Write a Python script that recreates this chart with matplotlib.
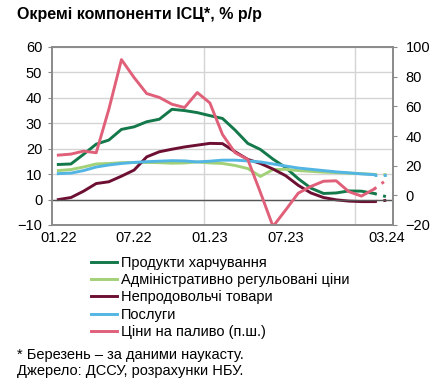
import numpy as np
import matplotlib
matplotlib.use('Agg')
from matplotlib import pyplot as plt
from matplotlib.ticker import FixedLocator

plt.rcParams['font.family'] = ['Liberation Sans', 'DejaVu Sans']

# months 01.22 .. 03.24 (last point is the nowcast)
months = ['01.22', '02.22', '03.22', '04.22', '05.22', '06.22', '07.22', '08.22', '09.22',
          '10.22', '11.22', '12.22', '01.23', '02.23', '03.23', '04.23', '05.23', '06.23',
          '07.23', '08.23', '09.23', '10.23', '11.23', '12.23', '01.24', '02.24', '03.24']
tick_labels = ['01.22', '07.22', '01.23', '07.23', '03.24']

food = [13.8, 14.0, 17.8, 21.8, 23.4, 27.6, 28.6, 30.6, 31.6, 35.5, 35.0, 34.2, 33.0, 31.9,
        27.3, 22.1, 19.7, 15.9, 12.6, 8.2, 4.5, 2.4, 2.6, 3.4, 3.3, 2.4, 1.1]
admin = [11.4, 11.8, 12.8, 14.0, 14.2, 14.5, 14.6, 14.6, 14.5, 14.3, 14.4, 14.8, 14.4, 14.2,
         13.4, 12.2, 9.1, 11.8, 11.9, 11.4, 11.1, 10.8, 10.6, 10.4, 10.2, 9.9, 9.8]
nonfood = [0.0, 0.8, 3.3, 6.3, 7.0, 9.2, 11.6, 16.8, 18.8, 19.8, 20.7, 21.4, 22.1, 22.0,
           18.8, 15.8, 14.2, 12.0, 9.4, 5.6, 2.6, 0.8, -0.1, -0.6, -0.8, -0.8, -0.3]
services = [10.2, 10.4, 11.4, 12.8, 13.6, 14.2, 14.6, 14.9, 15.1, 15.3, 15.2, 14.8, 15.1, 15.5,
            15.5, 15.2, 14.8, 14.0, 13.2, 12.4, 11.9, 11.4, 10.9, 10.5, 10.1, 9.8, 9.8]
fuel = [27.1, 27.8, 29.8, 28.7, 58.0, 91.5, 79.4, 68.6, 66.0, 61.4, 59.2, 69.3, 62.3, 41.0,
        28.7, 24.2, 2.0, -21.0, -9.9, 1.5, 6.0, 9.5, 9.8, 2.5, -0.5, 4.2, 10.5]

names = ['Продукти харчування', 'Адміністративно регульовані ціни', 'Непродовольчі товари',
         'Послуги', 'Ціни на паливо (п.ш.)']
colors = ['#13784a', '#a3d178', '#6d0f33', '#53b5e3', '#e0607a']

x = np.arange(len(months))
n_solid = len(months) - 1  # last month dotted (nowcast)

fig = plt.figure(figsize=(4.32, 3.86), dpi=100)
ax = fig.add_axes([52/432, 1 - 225/386, 341/432, 178/386])
ax2 = ax.twinx()

handles = []
for series, name, c in zip([food, admin, nonfood, services], names[:4], colors[:4]):
    h, = ax.plot(x[:n_solid], series[:n_solid], color=c, lw=2.1, label=name)
    ax.plot(x[n_solid - 1:], series[n_solid - 1:], color=c, lw=2.1, ls=(0, (1, 2.2)))
    handles.append(h)
h, = ax2.plot(x[:n_solid], fuel[:n_solid], color=colors[4], lw=2.1, label=names[4])
ax2.plot(x[n_solid - 1:], fuel[n_solid - 1:], color=colors[4], lw=2.1, ls=(0, (1, 2.2)))
handles.append(h)

# axes
ax.set_xlim(-0.5, len(months) - 0.5)
ax.set_ylim(-10, 60)
ax.set_yticks(range(-10, 61, 10))
ax2.set_ylim(-20, 100)
ax2.set_yticks(range(-20, 101, 20))
ax.set_xticks([months.index(t) for t in tick_labels])
ax.set_xticklabels(tick_labels)
ax.xaxis.set_minor_locator(FixedLocator([11.5, 23.5]))
ax.grid(axis='y', color='#d4d4d4', lw=1)
ax.grid(axis='x', which='minor', color='#d4d4d4', lw=1)
ax.axhline(0, color='#555555', lw=1)
ax.set_axisbelow(True)

for a in (ax, ax2):
    for s in a.spines.values():
        s.set_color('#8a8a8a')
        s.set_linewidth(1.2)
ax.tick_params(axis='x', which='both', length=0, labelsize=10.5, pad=4, colors='black')
ax.tick_params(axis='y', length=3, color='#8a8a8a', labelsize=10.5, pad=4)
ax2.tick_params(axis='y', length=3, color='#8a8a8a', labelsize=10.5, pad=6)

fig.text(17/432, 1 - 15/386, 'Окремі компоненти ІСЦ*, % р/р', fontsize=11.5,
         fontweight='bold', va='center', ha='left')

fig.legend(handles=handles, labels=names, loc='upper left',
           bbox_to_anchor=(91/432, 1 - 256/386), frameon=False, fontsize=10.5,
           handlelength=1.75, handletextpad=0.3, labelspacing=0.22,
           borderpad=0, borderaxespad=0)

fig.text(17/432, 1 - 355/386, '* Березень – за даними наукасту.', fontsize=10.5, va='center')
fig.text(17/432, 1 - 371/386, 'Джерело: ДССУ, розрахунки НБУ.', fontsize=10.5, va='center')

fig.savefig('out.png', dpi=100)
